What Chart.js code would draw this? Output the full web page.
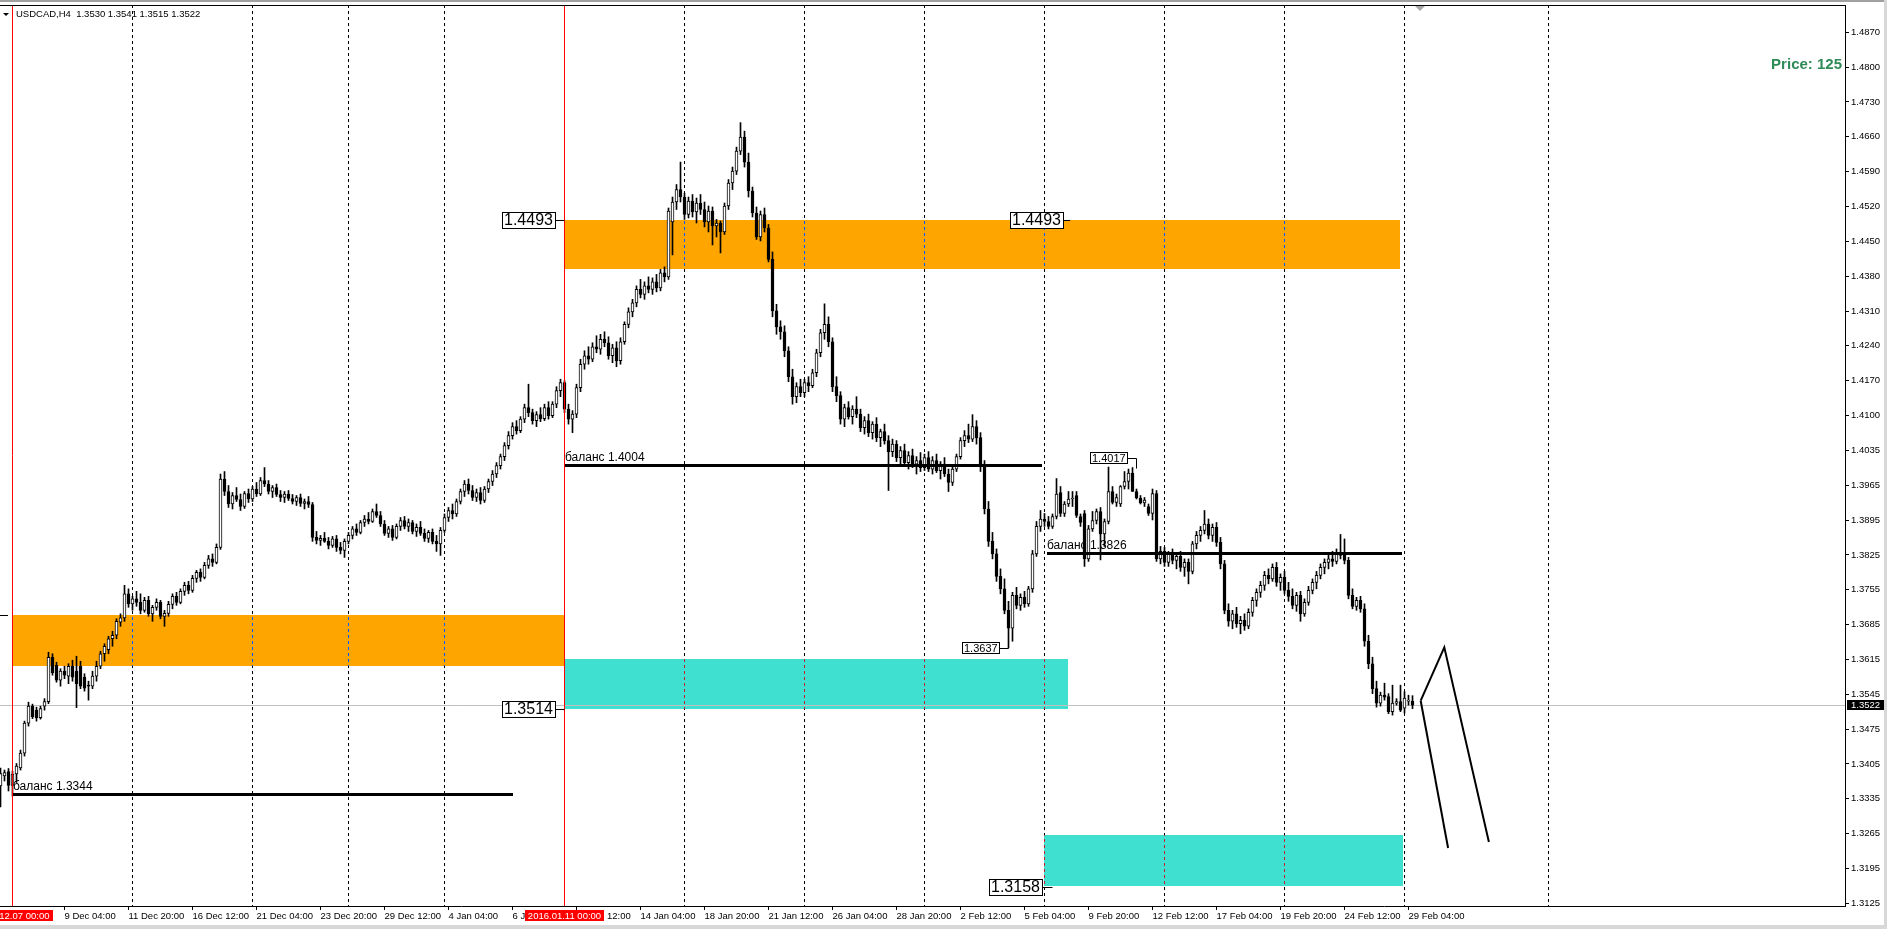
<!DOCTYPE html>
<html><head><meta charset="utf-8">
<script src="https://cdn.jsdelivr.net/npm/chart.js@4.4.1/dist/chart.umd.min.js"></script>
<style>html,body{margin:0;padding:0;background:#fff;overflow:hidden}</style>
</head><body>
<canvas id="c" width="1887" height="929"></canvas>
<script>
// ---------- DATA (USDCAD H4, bar 0 = 2015.12.07 00:00, first bar = -3) ----------
const FIRST_BAR = -3;
const opens = [1.3360,1.3380,1.3389,
1.3361,1.3384,1.3396,1.3426,1.3486,1.3520,1.3512,1.3497,1.3520,1.3529,
1.3618,1.3602,1.3572,1.3590,1.3580,1.3600,1.3590,1.3600,1.3578,1.3562,
1.3560,1.3580,1.3600,1.3625,1.3633,1.3655,1.3662,1.3688,1.3697,1.3745,
1.3725,1.3735,1.3728,1.3712,1.3732,1.3705,1.3718,1.3728,1.3700,1.3706,
1.3724,1.3740,1.3728,1.3750,1.3762,1.3752,1.3776,1.3788,1.3778,1.3802,
1.3815,1.3808,1.3838,1.3975,1.3950,1.3925,1.3942,1.3934,1.3920,1.3946,
1.3935,1.3955,1.3945,1.3972,1.3965,1.3950,1.3958,1.3944,1.3938,1.3945,
1.3936,1.3930,1.3938,1.3926,1.3930,1.3924,1.3858,1.3852,1.3856,1.3850,
1.3842,1.3855,1.3838,1.3832,1.3850,1.3862,1.3875,1.3868,1.3888,1.3895,
1.3890,1.3910,1.3902,1.3885,1.3866,1.3875,1.3858,1.3880,1.3892,1.3880,
1.3888,1.3870,1.3878,1.3866,1.3856,1.3868,1.3850,1.3845,1.3872,1.3898,
1.3912,1.3905,1.3930,1.3950,1.3965,1.3952,1.3938,1.3948,1.3932,1.3955,
1.3970,1.3985,1.4002,1.4020,1.4042,1.4062,1.4080,1.4072,1.4095,1.4118,
1.4108,1.4092,1.4104,1.4096,1.4118,1.4102,1.4125,1.4152,1.4168,1.4115,
1.4095,1.4105,1.4158,1.4205,1.4222,1.4215,1.4240,1.4235,1.4255,1.4248,
1.4222,1.4238,1.4212,1.4250,1.4285,1.4310,1.4328,1.4355,1.4345,1.4362,
1.4355,1.4370,1.4358,1.4388,1.4380,1.4490,1.4530,1.4555,1.4540,1.4505,
1.4532,1.4510,1.4528,1.4515,1.4490,1.4512,1.4482,1.4488,1.4470,1.4522,
1.4568,1.4592,1.4632,1.4660,1.4610,1.4552,1.4508,1.4460,1.4505,1.4478,
1.4415,1.4312,1.4280,1.4270,1.4232,1.4180,1.4140,1.4160,1.4148,1.4168,
1.4162,1.4188,1.4228,1.4268,1.4285,1.4250,1.4160,1.4142,1.4095,1.4118,
1.4100,1.4115,1.4105,1.4078,1.4092,1.4068,1.4085,1.4058,1.4070,1.4052,
1.4030,1.4045,1.4018,1.4032,1.4008,1.4022,1.4005,1.4012,1.3998,1.4018,
1.3995,1.4012,1.3992,1.4005,1.3985,1.3968,1.3995,1.4020,1.4052,1.4062,
1.4055,1.4080,1.4058,1.4005,1.3915,1.3850,1.3825,1.3780,1.3755,1.3712,
1.3676,1.3742,1.3722,1.3738,1.3725,1.3755,1.3825,1.3880,1.3895,1.3890,
1.3880,1.3900,1.3948,1.3906,1.3925,1.3935,1.3942,1.3900,1.3906,1.3815,
1.3875,1.3892,1.3910,1.3865,1.3890,1.3950,1.3928,1.3925,1.3960,1.3970,
1.3987,1.3950,1.3937,1.3927,1.3920,1.3906,1.3946,1.3815,1.3830,1.3808,
1.3825,1.3812,1.3820,1.3798,1.3808,1.3790,1.3845,1.3862,1.3872,1.3885,
1.3862,1.3878,1.3848,1.3805,1.3712,1.3690,1.3705,1.3685,1.3692,1.3680,
1.3708,1.3732,1.3748,1.3762,1.3782,1.3775,1.3798,1.3768,1.3778,1.3752,
1.3740,1.3722,1.3742,1.3705,1.3728,1.3752,1.3768,1.3782,1.3798,1.3808,
1.3815,1.3810,1.3828,1.3822,1.3812,1.3742,1.3720,1.3732,1.3715,1.3650,
1.3605,1.3555,1.3526,1.3542,1.3539,1.3509,1.3526,1.3529,1.3516,1.3530,
1.3530];
const highs = [1.3396,1.3392,1.3395,
1.3390,1.3405,1.3432,1.3490,1.3528,1.3524,1.3518,1.3520,1.3535,1.3628,
1.3625,1.3608,1.3595,1.3600,1.3605,1.3612,1.3620,1.3610,1.3585,1.3570,
1.3590,1.3610,1.3630,1.3645,1.3660,1.3670,1.3695,1.3705,1.3762,1.3755,
1.3740,1.3750,1.3745,1.3738,1.3740,1.3722,1.3735,1.3732,1.3712,1.3730,
1.3745,1.3748,1.3755,1.3768,1.3770,1.3782,1.3792,1.3795,1.3808,1.3822,
1.3825,1.3845,1.3985,1.3990,1.3962,1.3948,1.3958,1.3945,1.3950,1.3955,
1.3960,1.3968,1.3978,1.3998,1.3972,1.3962,1.3965,1.3952,1.3950,1.3952,
1.3944,1.3942,1.3945,1.3935,1.3940,1.3928,1.3870,1.3862,1.3868,1.3858,
1.3860,1.3862,1.3848,1.3855,1.3868,1.3880,1.3885,1.3892,1.3902,1.3908,
1.3915,1.3925,1.3910,1.3892,1.3880,1.3882,1.3885,1.3898,1.3900,1.3895,
1.3892,1.3885,1.3890,1.3875,1.3872,1.3875,1.3862,1.3878,1.3905,1.3918,
1.3925,1.3935,1.3955,1.3972,1.3975,1.3962,1.3955,1.3958,1.3960,1.3975,
1.3992,1.4008,1.4025,1.4048,1.4070,1.4088,1.4092,1.4100,1.4125,1.4165,
1.4115,1.4110,1.4118,1.4125,1.4130,1.4130,1.4160,1.4175,1.4172,1.4125,
1.4112,1.4165,1.4215,1.4232,1.4240,1.4248,1.4262,1.4265,1.4270,1.4260,
1.4245,1.4250,1.4258,1.4290,1.4318,1.4335,1.4362,1.4375,1.4370,1.4380,
1.4378,1.4385,1.4395,1.4400,1.4518,1.4540,1.4565,1.4610,1.4548,1.4540,
1.4545,1.4538,1.4545,1.4530,1.4522,1.4520,1.4495,1.4492,1.4528,1.4575,
1.4600,1.4640,1.4689,1.4672,1.4628,1.4560,1.4520,1.4512,1.4518,1.4485,
1.4430,1.4325,1.4292,1.4282,1.4240,1.4195,1.4168,1.4175,1.4175,1.4180,
1.4195,1.4235,1.4275,1.4326,1.4300,1.4258,1.4180,1.4150,1.4125,1.4130,
1.4122,1.4140,1.4115,1.4100,1.4105,1.4090,1.4098,1.4075,1.4085,1.4062,
1.4055,1.4052,1.4040,1.4045,1.4030,1.4035,1.4020,1.4028,1.4025,1.4030,
1.4020,1.4025,1.4010,1.4018,1.3995,1.4000,1.4025,1.4058,1.4072,1.4085,
1.4104,1.4092,1.4068,1.4012,1.3930,1.3868,1.3835,1.3795,1.3775,1.3730,
1.3748,1.3758,1.3745,1.3750,1.3760,1.3832,1.3890,1.3912,1.3906,1.3900,
1.3905,1.3976,1.3960,1.3930,1.3950,1.3950,1.3950,1.3905,1.3912,1.3882,
1.3910,1.3915,1.3918,1.3895,1.3999,1.3960,1.3945,1.3962,1.3990,1.3995,
1.3998,1.3955,1.3942,1.3938,1.3925,1.3955,1.3952,1.3840,1.3838,1.3830,
1.3835,1.3828,1.3830,1.3815,1.3815,1.3850,1.3870,1.3880,1.3912,1.3895,
1.3885,1.3888,1.3858,1.3812,1.3725,1.3712,1.3718,1.3700,1.3705,1.3715,
1.3738,1.3755,1.3770,1.3790,1.3795,1.3805,1.3808,1.3785,1.3790,1.3768,
1.3755,1.3748,1.3750,1.3735,1.3760,1.3775,1.3790,1.3805,1.3815,1.3825,
1.3830,1.3835,1.3864,1.3855,1.3818,1.3755,1.3738,1.3740,1.3725,1.3662,
1.3618,1.3570,1.3548,1.3566,1.3545,1.3562,1.3535,1.3562,1.3549,1.3542,
1.3541];
const lows = [1.3318,1.3370,1.3350,
1.3340,1.3367,1.3392,1.3420,1.3480,1.3495,1.3490,1.3494,1.3512,1.3525,
1.3582,1.3568,1.3560,1.3575,1.3565,1.3570,1.3517,1.3555,1.3550,1.3532,
1.3555,1.3570,1.3595,1.3610,1.3625,1.3640,1.3655,1.3680,1.3690,1.3718,
1.3712,1.3720,1.3705,1.3708,1.3700,1.3690,1.3712,1.3695,1.3680,1.3700,
1.3715,1.3722,1.3725,1.3742,1.3745,1.3748,1.3768,1.3770,1.3775,1.3796,
1.3800,1.3805,1.3834,1.3942,1.3918,1.3915,1.3930,1.3912,1.3916,1.3928,
1.3930,1.3940,1.3942,1.3960,1.3945,1.3938,1.3940,1.3930,1.3928,1.3932,
1.3925,1.3922,1.3920,1.3915,1.3918,1.3850,1.3845,1.3842,1.3848,1.3835,
1.3838,1.3830,1.3825,1.3818,1.3845,1.3855,1.3862,1.3865,1.3880,1.3885,
1.3888,1.3898,1.3880,1.3862,1.3858,1.3852,1.3855,1.3872,1.3875,1.3870,
1.3865,1.3860,1.3862,1.3850,1.3848,1.3845,1.3830,1.3822,1.3868,1.3890,
1.3895,1.3900,1.3925,1.3940,1.3945,1.3932,1.3930,1.3925,1.3928,1.3948,
1.3962,1.3978,1.3995,1.4012,1.4035,1.4055,1.4065,1.4068,1.4088,1.4100,
1.4085,1.4080,1.4090,1.4092,1.4095,1.4098,1.4118,1.4140,1.4108,1.4085,
1.4068,1.4098,1.4150,1.4195,1.4205,1.4210,1.4228,1.4225,1.4240,1.4215,
1.4208,1.4200,1.4205,1.4245,1.4278,1.4300,1.4320,1.4338,1.4335,1.4348,
1.4345,1.4350,1.4352,1.4370,1.4375,1.4424,1.4515,1.4530,1.4495,1.4498,
1.4500,1.4488,1.4505,1.4480,1.4470,1.4444,1.4460,1.4428,1.4465,1.4515,
1.4555,1.4585,1.4625,1.4600,1.4540,1.4500,1.4455,1.4452,1.4470,1.4410,
1.4300,1.4265,1.4255,1.4220,1.4170,1.4125,1.4128,1.4140,1.4140,1.4150,
1.4158,1.4180,1.4220,1.4255,1.4240,1.4150,1.4130,1.4085,1.4080,1.4095,
1.4085,1.4098,1.4070,1.4065,1.4060,1.4055,1.4050,1.4040,1.4045,1.3952,
1.4020,1.4010,1.4005,1.4000,1.3995,1.3998,1.3985,1.3990,1.3992,1.3990,
1.3985,1.3988,1.3975,1.3980,1.3950,1.3962,1.3990,1.4015,1.4040,1.4048,
1.4050,1.4045,1.3990,1.3905,1.3840,1.3815,1.3770,1.3745,1.3705,1.3637,
1.3650,1.3715,1.3712,1.3718,1.3720,1.3748,1.3820,1.3870,1.3880,1.3875,
1.3876,1.3895,1.3900,1.3900,1.3920,1.3920,1.3898,1.3880,1.3800,1.3810,
1.3870,1.3885,1.3813,1.3840,1.3885,1.3925,1.3920,1.3920,1.3955,1.3955,
1.3950,1.3935,1.3925,1.3920,1.3902,1.3893,1.3810,1.3805,1.3800,1.3800,
1.3805,1.3795,1.3790,1.3780,1.3765,1.3785,1.3835,1.3850,1.3865,1.3855,
1.3850,1.3840,1.3795,1.3705,1.3680,1.3675,1.3678,1.3665,1.3672,1.3675,
1.3700,1.3720,1.3738,1.3752,1.3765,1.3770,1.3760,1.3752,1.3745,1.3730,
1.3715,1.3710,1.3690,1.3700,1.3722,1.3745,1.3755,1.3775,1.3785,1.3795,
1.3800,1.3805,1.3815,1.3805,1.3735,1.3715,1.3712,1.3708,1.3640,1.3595,
1.3545,1.3518,1.3520,1.3532,1.3505,1.3502,1.3522,1.3509,1.3506,1.3522,
1.3515];
const closes = [1.3385,1.3387,1.3361,
1.3384,1.3400,1.3426,1.3486,1.3520,1.3499,1.3497,1.3515,1.3529,1.3618,
1.3587,1.3572,1.3590,1.3582,1.3600,1.3578,1.3565,1.3560,1.3556,1.3560,
1.3580,1.3600,1.3625,1.3640,1.3655,1.3662,1.3690,1.3697,1.3745,1.3725,
1.3735,1.3728,1.3712,1.3732,1.3705,1.3718,1.3728,1.3700,1.3706,1.3724,
1.3740,1.3728,1.3750,1.3762,1.3752,1.3776,1.3788,1.3778,1.3802,1.3815,
1.3808,1.3838,1.3975,1.3950,1.3925,1.3942,1.3934,1.3920,1.3946,1.3935,
1.3955,1.3945,1.3972,1.3965,1.3950,1.3958,1.3944,1.3938,1.3945,1.3936,
1.3930,1.3938,1.3926,1.3930,1.3924,1.3858,1.3852,1.3856,1.3850,1.3842,
1.3855,1.3838,1.3832,1.3850,1.3862,1.3875,1.3868,1.3888,1.3895,1.3890,
1.3910,1.3902,1.3885,1.3866,1.3875,1.3858,1.3880,1.3892,1.3880,1.3888,
1.3870,1.3878,1.3866,1.3856,1.3868,1.3850,1.3845,1.3872,1.3898,1.3912,
1.3905,1.3930,1.3950,1.3965,1.3952,1.3938,1.3948,1.3932,1.3955,1.3970,
1.3985,1.4002,1.4020,1.4042,1.4062,1.4080,1.4072,1.4095,1.4118,1.4108,
1.4092,1.4104,1.4096,1.4118,1.4102,1.4125,1.4152,1.4168,1.4115,1.4095,
1.4105,1.4158,1.4205,1.4222,1.4215,1.4240,1.4235,1.4255,1.4248,1.4222,
1.4238,1.4212,1.4250,1.4285,1.4310,1.4328,1.4355,1.4345,1.4362,1.4355,
1.4370,1.4358,1.4388,1.4380,1.4512,1.4530,1.4555,1.4540,1.4505,1.4532,
1.4510,1.4528,1.4515,1.4490,1.4512,1.4482,1.4488,1.4470,1.4522,1.4568,
1.4592,1.4632,1.4660,1.4610,1.4552,1.4508,1.4460,1.4505,1.4478,1.4415,
1.4312,1.4280,1.4270,1.4232,1.4180,1.4140,1.4160,1.4148,1.4168,1.4162,
1.4188,1.4228,1.4268,1.4285,1.4250,1.4160,1.4142,1.4095,1.4118,1.4100,
1.4115,1.4105,1.4078,1.4092,1.4068,1.4085,1.4058,1.4070,1.4052,1.4030,
1.4045,1.4018,1.4032,1.4008,1.4022,1.4005,1.4012,1.3998,1.4018,1.3995,
1.4012,1.3992,1.4005,1.3985,1.3968,1.3995,1.4020,1.4052,1.4062,1.4055,
1.4080,1.4058,1.4005,1.3915,1.3850,1.3825,1.3780,1.3755,1.3712,1.3676,
1.3742,1.3722,1.3738,1.3725,1.3755,1.3825,1.3880,1.3895,1.3890,1.3880,
1.3900,1.3945,1.3906,1.3925,1.3935,1.3936,1.3902,1.3888,1.3815,1.3875,
1.3892,1.3910,1.3865,1.3890,1.3950,1.3928,1.3938,1.3960,1.3970,1.3987,
1.3950,1.3937,1.3927,1.3933,1.3906,1.3946,1.3815,1.3830,1.3808,1.3825,
1.3812,1.3820,1.3798,1.3808,1.3790,1.3845,1.3862,1.3872,1.3885,1.3862,
1.3878,1.3848,1.3805,1.3712,1.3690,1.3705,1.3685,1.3692,1.3680,1.3708,
1.3732,1.3748,1.3762,1.3782,1.3775,1.3798,1.3768,1.3778,1.3752,1.3740,
1.3722,1.3742,1.3705,1.3728,1.3752,1.3768,1.3782,1.3798,1.3808,1.3815,
1.3810,1.3828,1.3822,1.3812,1.3742,1.3720,1.3732,1.3715,1.3650,1.3605,
1.3555,1.3526,1.3542,1.3538,1.3509,1.3526,1.3529,1.3512,1.3536,1.3532,
1.3522];

const xTickLabels = ['9 Dec 04:00','11 Dec 20:00','16 Dec 12:00','21 Dec 04:00','23 Dec 20:00','29 Dec 12:00','4 Jan 04:00','6 Jan 20:00','11 Jan 12:00','14 Jan 04:00','18 Jan 20:00','21 Jan 12:00','26 Jan 04:00','28 Jan 20:00','2 Feb 12:00','5 Feb 04:00','9 Feb 20:00','12 Feb 12:00','17 Feb 04:00','19 Feb 20:00','24 Feb 12:00','29 Feb 04:00'];
const xTickBars = [13,29,45,61,77,93,109,125,141,157,173,189,205,221,237,253,269,285,301,317,333,349];
const weekBars = [30,60,84,108,138,168,198,228,258,288,318,348,384];
const yTickLabels = ['1.4870','1.4800','1.4730','1.4660','1.4590','1.4520','1.4450','1.4380','1.4310','1.4240','1.4170','1.4100','1.4035','1.3965','1.3895','1.3825','1.3755','1.3685','1.3615','1.3545','1.3475','1.3405','1.3335','1.3265','1.3195','1.3125'];
const Y_TICK_TOP = 1.4870, Y_TICK_STEP = 0.00698;
const Y_MAX = 1.49247, Y_MIN = 1.31196;
const X_MIN = -3.125, X_MAX = 458.125;

const title = 'USDCAD,H4  1.3530 1.3541 1.3515 1.3522';
const lastPrice = 1.3522;
const vLines = [{bar:0, label:'2015.12.07 00:00'}, {bar:138, label:'2016.01.11 00:00'}];
const rects = [
  {b1:0,   b2:138,   p1:1.37026, p2:1.36011, color:'#ffa500'},
  {b1:138, b2:346.8, p1:1.4493,  p2:1.4396,  color:'#ffa500'},
  {b1:138, b2:263.8, p1:1.36144, p2:1.3514,  color:'#40e0d0'},
  {b1:257.9, b2:347.6, p1:1.32618, p2:1.3160, color:'#40e0d0'}
];
const balanceLines = [
  {b1:0, b2:125.1, p:1.3344, text:'баланс 1.3344'},
  {b1:138, b2:257.3, p:1.4004, text:'баланс 1.4004'},
  {b1:258.7, b2:347.4, p:1.3826, text:'баланс 1.3826'}
];
const bigLabels = [
  {text:'1.4493', p:1.4493, boxRightX:556, lineToBar:138},
  {text:'1.4493', p:1.4493, boxRightX:1064, lineToBar:264.4},
  {text:'1.3514', p:1.3514, boxRightX:556, lineToBar:138},
  {text:'1.3158', p:1.3158, boxRightX:1043, lineToBar:260.0}
];
const smallLabels = [
  {text:'1.3637', p:1.3637, boxLeftX:962, bar:248.95, toP:1.3671},
  {text:'1.4017', p:1.4017, boxLeftX:1090, bar:280.9, toP:1.3996}
];
const zigzag = [
  [{b:352.05,p:1.35309},{b:357.95,p:1.36379},{b:369.1,p:1.32478}],
  [{b:352.05,p:1.35309},{b:358.9,p:1.32358}]
];

// ---------- CHART ----------
const FONT = '"Liberation Sans", Arial, sans-serif';
const barsIdx = closes.map((c,i)=>FIRST_BAR+i);
const bodyData = barsIdx.map((b,i)=>({x:b, y:[opens[i], closes[i]]}));
const wickData = barsIdx.map((b,i)=>({x:b, y:[lows[i], highs[i]]}));
const bodyColors = barsIdx.map((b,i)=> closes[i] >= opens[i] ? '#ffffff' : '#000000');

const annot = {
  id:'annot',
  beforeDatasetsDraw(chart){
    const {ctx, chartArea:ca, scales:{x,y}} = chart;
    ctx.save();
    ctx.beginPath(); ctx.rect(ca.left, ca.top, ca.right-ca.left, ca.bottom-ca.top); ctx.clip();
    rects.forEach(r=>{
      const x1=Math.round(x.getPixelForValue(r.b1)), x2=Math.round(x.getPixelForValue(r.b2));
      const y1=Math.round(y.getPixelForValue(r.p1)), y2=Math.round(y.getPixelForValue(r.p2));
      ctx.fillStyle=r.color; ctx.fillRect(x1,y1,x2-x1,y2-y1);
      const inv = '#' + (0xffffff ^ parseInt(r.color.slice(1),16)).toString(16).padStart(6,'0');
      ctx.save(); ctx.beginPath(); ctx.rect(x1,y1,x2-x1,y2-y1); ctx.clip();
      ctx.strokeStyle=inv; ctx.lineWidth=1; ctx.setLineDash([3,3]);
      weekBars.forEach(w=>{ const gx=Math.floor(x.getPixelForValue(w))+0.5; ctx.beginPath(); ctx.moveTo(gx,ca.top); ctx.lineTo(gx,ca.bottom); ctx.stroke(); });
      ctx.restore();
    });
    const py=Math.floor(y.getPixelForValue(lastPrice))+0.5;
    ctx.strokeStyle='#c0c0c0'; ctx.lineWidth=1; ctx.setLineDash([]);
    ctx.beginPath(); ctx.moveTo(ca.left,py); ctx.lineTo(ca.right,py); ctx.stroke();
    ctx.restore();
  },
  afterDatasetsDraw(chart){
    const {ctx, chartArea:ca, scales:{x,y}} = chart;
    ctx.save();
    ctx.beginPath(); ctx.rect(ca.left, ca.top, ca.right-ca.left, ca.bottom-ca.top); ctx.clip();
    ctx.strokeStyle='#ff0000'; ctx.lineWidth=1;
    vLines.forEach(v=>{ const vx=Math.floor(x.getPixelForValue(v.bar))+0.5; ctx.beginPath(); ctx.moveTo(vx,ca.top); ctx.lineTo(vx,ca.bottom); ctx.stroke(); });
    ctx.fillStyle='#000';
    balanceLines.forEach(l=>{
      const x1=x.getPixelForValue(l.b1), x2=x.getPixelForValue(l.b2), ly=Math.round(y.getPixelForValue(l.p));
      ctx.fillRect(Math.round(x1), ly-1, Math.round(x2-x1), 3);
      ctx.font='12px '+FONT; ctx.textBaseline='alphabetic'; ctx.textAlign='left';
      ctx.fillText(l.text, Math.round(x1), ly-4);
    });
    ctx.strokeStyle='#000'; ctx.lineWidth=2; ctx.lineJoin='miter';
    zigzag.forEach(seg=>{ ctx.beginPath(); seg.forEach((pt,i)=>{ const px=x.getPixelForValue(pt.b), pyy=y.getPixelForValue(pt.p); if(i===0) ctx.moveTo(px,pyy); else ctx.lineTo(px,pyy); }); ctx.stroke(); });
    ctx.restore();
    ctx.save();
    bigLabels.forEach(l=>{
      ctx.font='16px '+FONT;
      const w=Math.round(ctx.measureText(l.text).width)+5, h=17;
      const ly=Math.round(y.getPixelForValue(l.p));
      const bx=l.boxRightX-w, by=ly-8;
      ctx.fillStyle='#fff'; ctx.fillRect(bx,by,w,h);
      ctx.strokeStyle='#000'; ctx.lineWidth=1; ctx.strokeRect(bx+0.5,by+0.5,w-1,h-1);
      ctx.beginPath(); ctx.moveTo(l.boxRightX, ly+0.5); ctx.lineTo(x.getPixelForValue(l.lineToBar), ly+0.5); ctx.stroke();
      ctx.fillStyle='#000'; ctx.textBaseline='middle'; ctx.textAlign='left';
      ctx.fillText(l.text, bx+2, ly+1);
    });
    smallLabels.forEach(l=>{
      ctx.font='11px '+FONT;
      const w=Math.round(ctx.measureText(l.text).width)+4, h=12;
      const ly=Math.round(y.getPixelForValue(l.p));
      const bx=l.boxLeftX, by=ly-6;
      const cx=Math.floor(x.getPixelForValue(l.bar))+0.5;
      ctx.strokeStyle='#000'; ctx.lineWidth=1;
      ctx.beginPath(); ctx.moveTo(bx+w, ly+0.5); ctx.lineTo(cx, ly+0.5); ctx.lineTo(cx, y.getPixelForValue(l.toP)); ctx.stroke();
      ctx.fillStyle='#fff'; ctx.fillRect(bx,by,w,h);
      ctx.strokeRect(bx+0.5,by+0.5,w-1,h-1);
      ctx.fillStyle='#000'; ctx.textBaseline='middle'; ctx.textAlign='left';
      ctx.fillText(l.text, bx+2, ly+1);
    });
    const oy=Math.round(y.getPixelForValue(rects[0].p1))+0.5;
    ctx.strokeStyle='#000'; ctx.beginPath(); ctx.moveTo(0,oy); ctx.lineTo(8,oy); ctx.stroke();
    ctx.restore();
  },
  afterDraw(chart){
    const {ctx, chartArea:ca, scales:{x,y}} = chart;
    ctx.save();
    ctx.fillStyle='#a0a0a0'; ctx.fillRect(0,0,1887,2);
    ctx.fillStyle='#d8d8d8'; ctx.fillRect(1884,0,3,929); ctx.fillRect(0,925,1887,4);
    ctx.fillStyle='#000'; ctx.fillRect(0, ca.top, ca.right-ca.left+1, 1);
    ctx.beginPath(); ctx.moveTo(3,13); ctx.lineTo(9,13); ctx.lineTo(6,16); ctx.closePath(); ctx.fill();
    ctx.font='9.5px '+FONT; ctx.textBaseline='middle'; ctx.textAlign='left';
    ctx.fillText(title, 16, 14.5);
    ctx.fillStyle='#a8a8a8'; ctx.beginPath(); ctx.moveTo(1415,6); ctx.lineTo(1425,6); ctx.lineTo(1420,11); ctx.closePath(); ctx.fill();
    ctx.font='bold 15px '+FONT; ctx.fillStyle='#2e8b57'; ctx.textAlign='right';
    ctx.fillText('Price: 125', 1842, 65);
    const py=Math.round(y.getPixelForValue(lastPrice));
    ctx.fillStyle='#000'; ctx.fillRect(ca.right+2, py-5, 37, 10);
    ctx.fillStyle='#fff'; ctx.font='9.5px '+FONT; ctx.textAlign='left';
    ctx.fillText(lastPrice.toFixed(4), ca.right+6, py);
    ctx.font='9.5px '+FONT;
    vLines.forEach(v=>{
      const vx=x.getPixelForValue(v.bar); const w=ctx.measureText(v.label).width+6;
      ctx.fillStyle='#ff0000'; ctx.fillRect(Math.round(vx-w/2), ca.bottom+4, Math.round(w), 11);
      ctx.fillStyle='#fff'; ctx.textAlign='center'; ctx.fillText(v.label, vx, ca.bottom+10);
    });
    ctx.restore();
  }
};

new Chart(document.getElementById('c'), {
  type:'bar',
  data:{datasets:[
    {label:'body', data:bodyData, backgroundColor:bodyColors, borderColor:'#000', borderWidth:1, borderSkipped:false, barThickness:3, grouped:false, minBarLength:1, order:0},
    {label:'wick', data:wickData, backgroundColor:'#000', borderWidth:0, barThickness:1, grouped:false, order:1}
  ]},
  options:{
    responsive:false, devicePixelRatio:1, animation:false,
    layout:{padding:{top:5,left:0,right:0,bottom:0}},
    plugins:{legend:{display:false}, tooltip:{enabled:false}},
    scales:{
      x:{type:'linear', position:'bottom', min:X_MIN, max:X_MAX, offset:false,
        afterBuildTicks:s=>{ s.ticks = xTickBars.map(v=>({value:v})); },
        afterFit:s=>{ s.height=23; s.paddingLeft=0; s.paddingRight=0; },
        ticks:{autoSkip:false, maxRotation:0, minRotation:0, align:'start', padding:1, color:'#000', font:{family:FONT, size:9.5}, callback:(v,i)=>xTickLabels[i]},
        grid:{offset:false, drawOnChartArea:false, drawTicks:true, tickLength:4, color:'#000'},
        border:{display:true, color:'#000', width:1}},
      xg:{type:'linear', position:'bottom', min:X_MIN, max:X_MAX, offset:false,
        afterBuildTicks:s=>{ s.ticks = weekBars.map(v=>({value:v})); },
        afterFit:s=>{ s.height=0; s.paddingLeft=0; s.paddingRight=0; },
        ticks:{display:false}, grid:{offset:false, drawOnChartArea:true, drawTicks:false, color:'#000', lineWidth:1},
        border:{display:false, dash:[3,3]}},
      y:{type:'linear', position:'right', min:Y_MIN, max:Y_MAX,
        afterBuildTicks:s=>{ s.ticks = yTickLabels.map((l,i)=>({value:Y_TICK_TOP - i*Y_TICK_STEP})); },
        afterFit:s=>{ s.width=42; s.paddingTop=0; s.paddingBottom=0; },
        ticks:{autoSkip:false, padding:2, color:'#000', font:{family:FONT, size:9.5}, callback:(v,i)=>yTickLabels[i]},
        grid:{drawOnChartArea:false, drawTicks:true, tickLength:4, color:'#000'},
        border:{display:true, color:'#000', width:1}}
    }
  },
  plugins:[annot]
});
</script>
</body></html>
